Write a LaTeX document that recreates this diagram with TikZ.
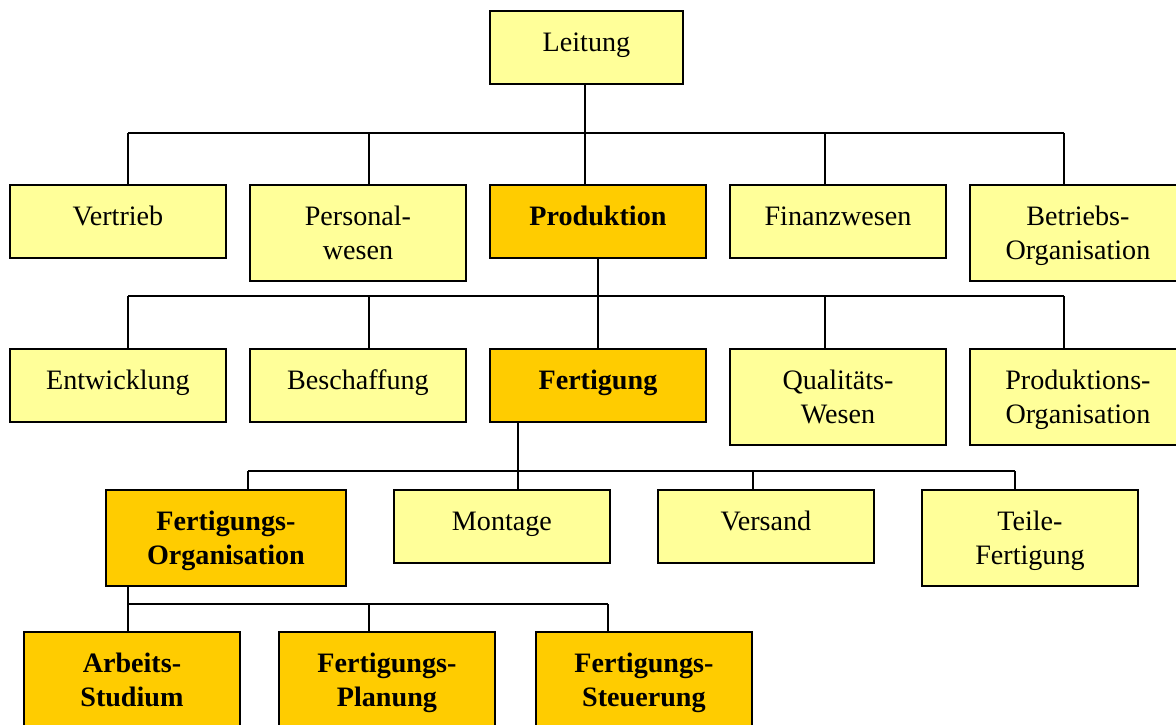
\documentclass[tikz,border=0pt]{standalone}
\usepackage{fontspec}
\setmainfont{Liberation Serif}
\usetikzlibrary{calc}
\definecolor{hellgelb}{HTML}{FFFF99}
\definecolor{gold}{HTML}{FFCC00}

\begin{document}
\begin{tikzpicture}[x=0.03cm,y=-0.03cm,
  box/.style={draw,line width=1.6pt,fill=hellgelb,anchor=north west,align=center,
    minimum width=6.48cm,inner xsep=2pt,inner ysep=0pt,
    text height=1.23cm,text depth=0.95cm,font=\fontsize{24}{29}\selectfont},
  hoch/.style={text height=2.25cm,text depth=0.63cm},
  fett/.style={fill=gold,font=\fontsize{24}{29}\selectfont\bfseries},
  conn/.style={line width=1.1pt}]
  \fill[white] (0,0) rectangle (1176,724);
  \useasboundingbox (0,0) rectangle (1176,724);

  \node[box,minimum width=5.79cm] (leitung) at (489,10) {Leitung};

  \node[box] (vertrieb) at (9,184) {Vertrieb};
  \node[box,hoch] (personal) at (249,184) {Personal-\\wesen};
  \node[box,fett] (produktion) at (489,184) {Produktion};
  \node[box] (finanz) at (729,184) {Finanzwesen};
  \node[box,hoch] (betriebs) at (969,184) {Betriebs-\\Organisation};

  \node[box] (entwicklung) at (9,348) {Entwicklung};
  \node[box] (beschaffung) at (249,348) {Beschaffung};
  \node[box,fett] (fertigung) at (489,348) {Fertigung};
  \node[box,hoch] (qualitaet) at (729,348) {Qualitäts-\\Wesen};
  \node[box,hoch] (prodorg) at (969,348) {Produktions-\\Organisation};

  \node[box,hoch,fett,minimum width=7.2cm] (fertorg) at (105,489) {Fertigungs-\\Organisation};
  \node[box] (montage) at (393,489) {Montage};
  \node[box] (versand) at (657,489) {Versand};
  \node[box,hoch] (teile) at (921,489) {Teile-\\Fertigung};

  \node[box,hoch,fett] (arbeits) at (23,631) {Arbeits-\\Studium};
  \node[box,hoch,fett] (planung) at (278,631) {Fertigungs-\\Planung};
  \node[box,hoch,fett] (steuerung) at (535,631) {Fertigungs-\\Steuerung};

  % Leitung -> erste Ebene
  \draw[conn] (leitung.south -| 585,0) -- (585,133);
  \draw[conn] (128,133) -- (1064,133);
  \foreach \n/\x in {vertrieb/128,personal/369,produktion/585,finanz/825,betriebs/1064}
    \draw[conn] (\x,133) -- (\n.north -| \x,0);

  % Produktion -> zweite Ebene
  \draw[conn] (produktion.south) -- (fertigung.north);
  \draw[conn] (128,296) -- (1064,296);
  \foreach \n/\x in {entwicklung/128,beschaffung/369,qualitaet/825,prodorg/1064}
    \draw[conn] (\x,296) -- (\n.north -| \x,0);

  % Fertigung -> dritte Ebene
  \draw[conn] (fertigung.south -| 518,0) -- (montage.north -| 518,0);
  \draw[conn] (248,471) -- (1015,471);
  \foreach \n/\x in {fertorg/248,versand/753,teile/1015}
    \draw[conn] (\x,471) -- (\n.north -| \x,0);

  % Fertigungs-Organisation -> vierte Ebene
  \draw[conn] (fertorg.south -| 128,0) -- (arbeits.north -| 128,0);
  \draw[conn] (128,604) -- (608,604);
  \foreach \n/\x in {planung/369,steuerung/608}
    \draw[conn] (\x,604) -- (\n.north -| \x,0);
\end{tikzpicture}
\end{document}
